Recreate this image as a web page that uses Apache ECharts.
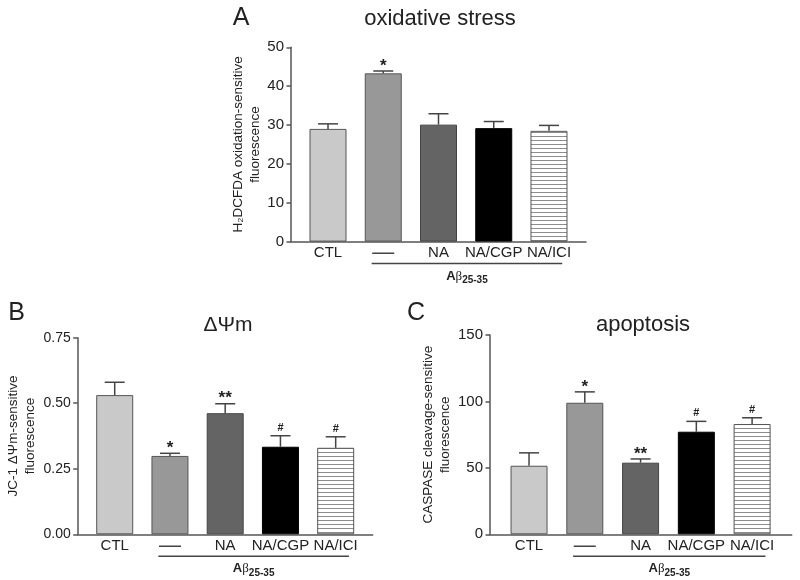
<!DOCTYPE html>
<html><head><meta charset="utf-8">
<script src="https://cdn.jsdelivr.net/npm/echarts@6/dist/echarts.min.js"></script>
<style>html,body{margin:0;padding:0;background:#fff}#c{width:800px;height:580px}</style>
</head><body><div id="c"></div>
<script>
// ---------- data ----------
const categories = ['CTL', '—', 'NA', 'NA/CGP', 'NA/ICI'];
const groupLabel = ['Aβ', '25-35'];

const oxMean  = [29.0, 43.3, 30.1, 29.2, 28.5];
const oxSem   = [1.3, 0.6, 2.8, 1.7, 1.4];
const oxMarks = ['', '*', '', '', ''];
const oxTicks = [0, 10, 20, 30, 40, 50];

const psiMean  = [0.531, 0.299, 0.462, 0.334, 0.330];
const psiSem   = [0.049, 0.010, 0.036, 0.042, 0.042];
const psiMarks = ['', '*', '**', '#', '#'];
const psiTicks = [0.00, 0.25, 0.50, 0.75];

const apoMean  = [51.6, 99.0, 53.9, 77.2, 83.0];
const apoSem   = [9.7, 8.2, 2.8, 7.8, 4.7];
const apoMarks = ['', '*', '**', '#', '#'];
const apoTicks = [0, 50, 100, 150];

// ---------- styles ----------
const FONT = 'Liberation Sans, Arial, sans-serif';
const pc = document.createElement('canvas');
pc.width = 4; pc.height = 4;
const g = pc.getContext('2d');
g.fillStyle = '#ffffff'; g.fillRect(0, 0, 4, 4);
g.fillStyle = '#8c8c8c'; g.fillRect(0, 0, 4, 1);
const fills = ['#c9c9c9', '#989898', '#646464', '#000000', {image: pc, repeat: 'repeat'}];
const borders = ['#555', '#555', '#444', '#000', '#555'];
const AX = '#555';

const panels = [
  {mean: oxMean, sem: oxSem, marks: oxMarks, ticks: oxTicks, dec: 0, fs: 15,
   grid: {left: 291, top: 47.3, width: 295, height: 194.3}, xr: [-0.67, 4.67],
   name: 'H₂DCFDA oxidation-sensitive\nfluorescence', gap: 27.5},
  {mean: psiMean, sem: psiSem, marks: psiMarks, ticks: psiTicks, dec: 2, fs: 14,
   grid: {left: 77.7, top: 337.7, width: 295, height: 196.6}, xr: [-0.67, 4.67],
   name: 'JC-1 ΔΨm-sensitive\nfluorescence', gap: 38.5},
  {mean: apoMean, sem: apoSem, marks: apoMarks, ticks: apoTicks, dec: 0, fs: 15,
   grid: {left: 490, top: 335, width: 301.7, height: 199.3}, xr: [-0.70, 4.71],
   name: 'CASPASE cleavage-sensitive\nfluorescence', gap: 28.2}
];

const grids = [], xAxes = [], yAxes = [], series = [];
panels.forEach((p, k) => {
  grids.push(Object.assign({containLabel: false}, p.grid));
  xAxes.push({
    gridIndex: k, type: 'value', min: p.xr[0], max: p.xr[1],
    axisLine: {show: true, onZero: false, lineStyle: {color: AX, width: 1.5}},
    axisTick: {show: false}, splitLine: {show: false},
    axisLabel: {
      customValues: categories.map((c, i) => i),
      formatter: v => { const i = Math.round(v); return categories[i] === '—' ? '{d|—}' : categories[i]; },
      fontSize: 15, color: '#222', fontFamily: FONT, margin: 4,
      rich: {d: {fontSize: 22, lineHeight: 15, color: '#444', fontFamily: FONT}}
    }
  });
  const t = p.ticks;
  yAxes.push({
    gridIndex: k, type: 'value', min: t[0], max: t[t.length - 1], interval: t[1] - t[0],
    axisLine: {show: true, onZero: false, lineStyle: {color: AX, width: 1.5}},
    axisTick: {show: true, length: 4.5, lineStyle: {color: AX, width: 1.5}},
    splitLine: {show: false},
    axisLabel: {fontSize: p.fs, color: '#222', fontFamily: FONT, margin: 7,
      formatter: v => v.toFixed(p.dec)},
    name: p.name, nameLocation: 'middle', nameRotate: 90, nameGap: p.gap,
    nameTextStyle: {fontSize: 13.5, lineHeight: 17, color: '#222', fontFamily: FONT}
  });
  series.push({
    type: 'bar', xAxisIndex: k, yAxisIndex: k, barWidth: 37, silent: true,
    data: p.mean.map((v, i) => ({value: [i, v],
      itemStyle: {color: fills[i], borderColor: borders[i], borderWidth: 1}}))
  });
  series.push({
    type: 'custom', xAxisIndex: k, yAxisIndex: k, silent: true, z: 5,
    data: p.mean.map((v, i) => [i, v, v + p.sem[i]]),
    encode: {x: 0, y: 1},
    renderItem: (params, api) => {
      const x = api.value(0);
      const lo = api.coord([x, api.value(1)]);
      const hi = api.coord([x, api.value(2)]);
      const st = {stroke: '#444', lineWidth: 1.5};
      const ch = [
        {type: 'line', shape: {x1: lo[0], y1: lo[1], x2: hi[0], y2: hi[1]}, style: st},
        {type: 'line', shape: {x1: hi[0] - 10, y1: hi[1], x2: hi[0] + 10, y2: hi[1]}, style: st}
      ];
      const mk = p.marks[params.dataIndex];
      if (mk) {
        const star = mk.indexOf('*') >= 0;
        ch.push({type: 'text', x: hi[0], y: hi[1] - (star ? 5 : 8),
          style: {text: mk, align: 'center', verticalAlign: 'middle', fill: '#222',
            font: (star ? 'bold 17px ' : 'bold 11px ') + FONT}});
      }
      return {type: 'group', children: ch};
    }
  });
  series.push({
    type: 'custom', xAxisIndex: k, yAxisIndex: k, silent: true,
    data: [[0.79, 0, 4.24]], encode: {x: 0, y: 1},
    renderItem: (params, api) => {
      const a = api.coord([api.value(0), api.value(1)]);
      const b = api.coord([api.value(2), api.value(1)]);
      const y = a[1] + 22;
      return {type: 'group', children: [
        {type: 'line', shape: {x1: a[0], y1: y, x2: b[0], y2: y}, style: {stroke: '#444', lineWidth: 1.5}},
        {type: 'text', x: (a[0] + b[0]) / 2, y: y + 11,
          style: {text: '{a|' + groupLabel[0].charAt(0) + '}{b|' + groupLabel[0].slice(1) + '}{s|' + groupLabel[1] + '}',
            align: 'center', verticalAlign: 'middle',
            rich: {
              a: {font: 'bold 13px ' + FONT, fill: '#222', lineHeight: 16, verticalAlign: 'bottom'},
              b: {font: '13px Liberation Serif, serif', fill: '#222', lineHeight: 16, verticalAlign: 'bottom'},
              s: {font: 'bold 10px ' + FONT, fill: '#222', lineHeight: 16, verticalAlign: 'bottom', padding: [0, 0, -3, 0]}
            }}}
      ]};
    }
  });
});

const txt = (x, y, text, font) => ({type: 'text', x: x, y: y, silent: true,
  style: {text: text, font: font, fill: '#222', align: 'center', verticalAlign: 'middle'}});

const chart = echarts.init(document.getElementById('c'), null, {renderer: 'canvas'});
chart.setOption({
  animation: false,
  backgroundColor: '#fff',
  textStyle: {fontFamily: FONT},
  grid: grids, xAxis: xAxes, yAxis: yAxes, series: series,
  graphic: [
    txt(241, 17.7, 'A', '25px ' + FONT),
    txt(16.5, 313, 'B', '25px ' + FONT),
    txt(416, 312.7, 'C', '25px ' + FONT),
    txt(440, 19, 'oxidative stress', '22px ' + FONT),
    txt(228, 325, 'ΔΨm', '21px ' + FONT),
    txt(643, 325, 'apoptosis', '22px ' + FONT)
  ]
});
</script></body></html>
